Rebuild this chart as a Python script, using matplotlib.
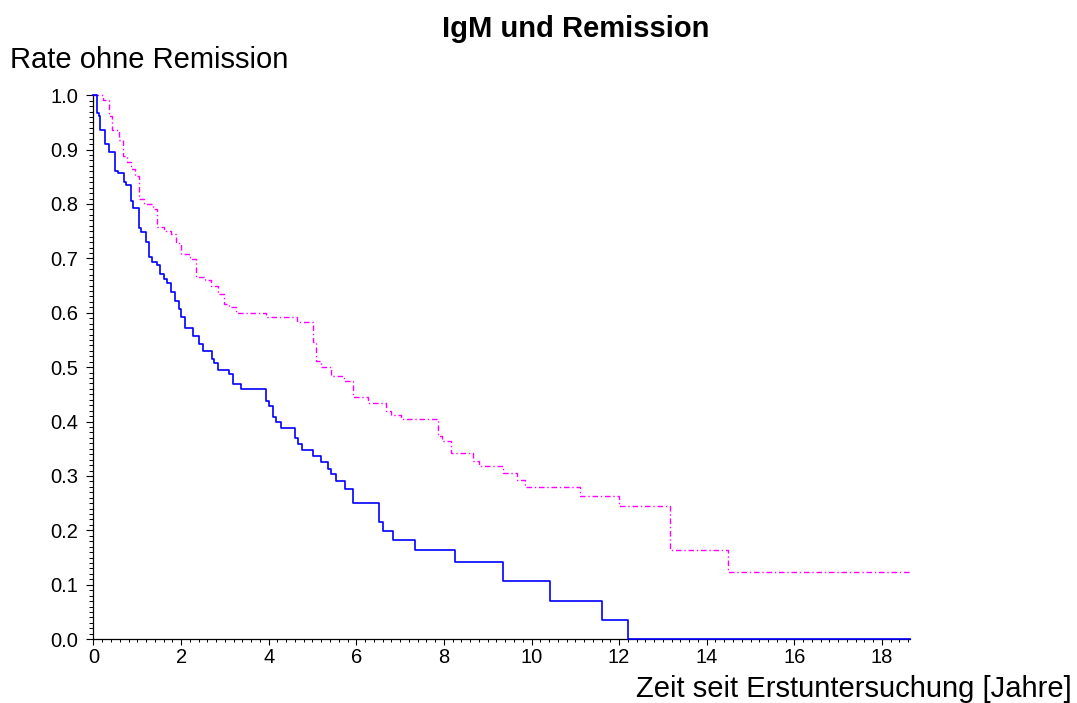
import matplotlib
matplotlib.use("Agg")
import matplotlib.pyplot as plt
from matplotlib.ticker import MultipleLocator


# Kaplan-Meier Stufen (Zeitpunkt der Stufe -> neuer Wert)
blue_t = [0, 0.076, 0.12, 0.16, 0.27, 0.365, 0.50, 0.56, 0.69, 0.75, 0.86, 0.91,
          1.03, 1.09, 1.19, 1.26, 1.34, 1.45, 1.51, 1.60, 1.68, 1.77, 1.86, 1.95,
          2.00, 2.10, 2.27, 2.40, 2.50, 2.70, 2.76, 2.84, 3.10, 3.18, 3.36, 3.94,
          4.01, 4.10, 4.17, 4.27, 4.60, 4.67, 4.77, 5.02, 5.20, 5.36, 5.43, 5.53,
          5.75, 5.92, 6.51, 6.61, 6.83, 7.33, 8.25, 9.35, 10.43, 11.60, 12.20, 18.65]
blue_s = [1.0, 0.967, 0.961, 0.936, 0.910, 0.896, 0.861, 0.857, 0.840, 0.835, 0.806, 0.793,
          0.756, 0.748, 0.731, 0.702, 0.694, 0.687, 0.671, 0.663, 0.655, 0.638, 0.622, 0.607,
          0.592, 0.572, 0.557, 0.543, 0.530, 0.515, 0.507, 0.495, 0.487, 0.469, 0.459, 0.438,
          0.429, 0.409, 0.399, 0.388, 0.369, 0.359, 0.348, 0.337, 0.326, 0.313, 0.304, 0.290,
          0.276, 0.250, 0.216, 0.199, 0.182, 0.163, 0.141, 0.107, 0.070, 0.036, 0.0, 0.0]

mag_t = [0, 0.22, 0.36, 0.43, 0.58, 0.67, 0.77, 0.86, 0.95, 1.05, 1.16, 1.35, 1.45,
         1.62, 1.77, 1.88, 2.00, 2.20, 2.33, 2.55, 2.69, 2.84, 2.97, 3.10, 3.26, 3.94,
         4.64, 5.01, 5.08, 5.20, 5.43, 5.73, 5.92, 6.26, 6.67, 6.80, 7.02, 7.86, 7.95,
         8.17, 8.66, 8.81, 9.35, 9.67, 9.85, 11.10, 12.00, 13.17, 14.48, 18.65]
mag_s = [1.0, 0.992, 0.962, 0.936, 0.918, 0.889, 0.878, 0.864, 0.852, 0.809, 0.800, 0.791, 0.758,
         0.751, 0.744, 0.729, 0.708, 0.699, 0.665, 0.660, 0.650, 0.635, 0.616, 0.610, 0.600, 0.592,
         0.583, 0.546, 0.512, 0.501, 0.483, 0.475, 0.446, 0.435, 0.420, 0.413, 0.404, 0.374, 0.365,
         0.343, 0.328, 0.319, 0.305, 0.292, 0.279, 0.263, 0.244, 0.163, 0.123, 0.123]

x_max = 18.65
x_ticks = [0, 2, 4, 6, 8, 10, 12, 14, 16, 18]
y_ticks = [0.0, 0.1, 0.2, 0.3, 0.4, 0.5, 0.6, 0.7, 0.8, 0.9, 1.0]

title = "IgM und Remission"
y_label = "Rate ohne Remission"
x_label = "Zeit seit Erstuntersuchung [Jahre]"


def main():
    plt.rcParams["font.family"] = ["Liberation Sans", "DejaVu Sans"]

    fig = plt.figure(figsize=(10.77, 7.03), dpi=100)
    ax = fig.add_axes([0.0868, 0.0908, 0.7585, 0.7738])

    ax.plot(blue_t, blue_s, drawstyle="steps-post", color="#0000FF",
            linewidth=1.2, clip_on=False, zorder=4)
    ax.plot(mag_t, mag_s, drawstyle="steps-post", color="#FF00FF",
            linewidth=1.0, dashes=(4, 2, 1, 2), clip_on=False, zorder=3)

    ax.set_xlim(0, x_max)
    ax.set_ylim(0, 1.0)

    ax.set_xticks(x_ticks)
    ax.set_xticklabels([str(v) for v in x_ticks])
    ax.set_yticks(y_ticks)
    ax.set_yticklabels([f"{v:.1f}" for v in y_ticks])
    ax.xaxis.set_minor_locator(MultipleLocator(0.2))
    ax.yaxis.set_minor_locator(MultipleLocator(0.01))

    for side in ["top", "right"]:
        ax.spines[side].set_visible(False)
    for side in ["left", "bottom"]:
        ax.spines[side].set_linewidth(0.9)
        ax.spines[side].set_zorder(2)

    ax.tick_params(axis="x", which="major", direction="out", length=4, width=0.8,
                   labelsize=14.5, pad=2)
    ax.tick_params(axis="x", which="minor", direction="out", length=2.2, width=0.7)
    ax.tick_params(axis="y", which="major", direction="out", length=4.8, width=0.8,
                   labelsize=14.5, pad=6)
    ax.tick_params(axis="y", which="minor", direction="out", length=2.9, width=0.7)

    fig.text(576 / 1077, 1 - 37 / 703, title, ha="center", va="baseline",
             fontsize=21, fontweight="bold")
    fig.text(10 / 1077, 1 - 68 / 703, y_label, ha="left", va="baseline", fontsize=21)
    fig.text(1072 / 1077, 1 - 697 / 703, x_label, ha="right", va="baseline", fontsize=21)

    fig.savefig("out.png", dpi=100)
    plt.close(fig)


if __name__ == "__main__":
    main()
